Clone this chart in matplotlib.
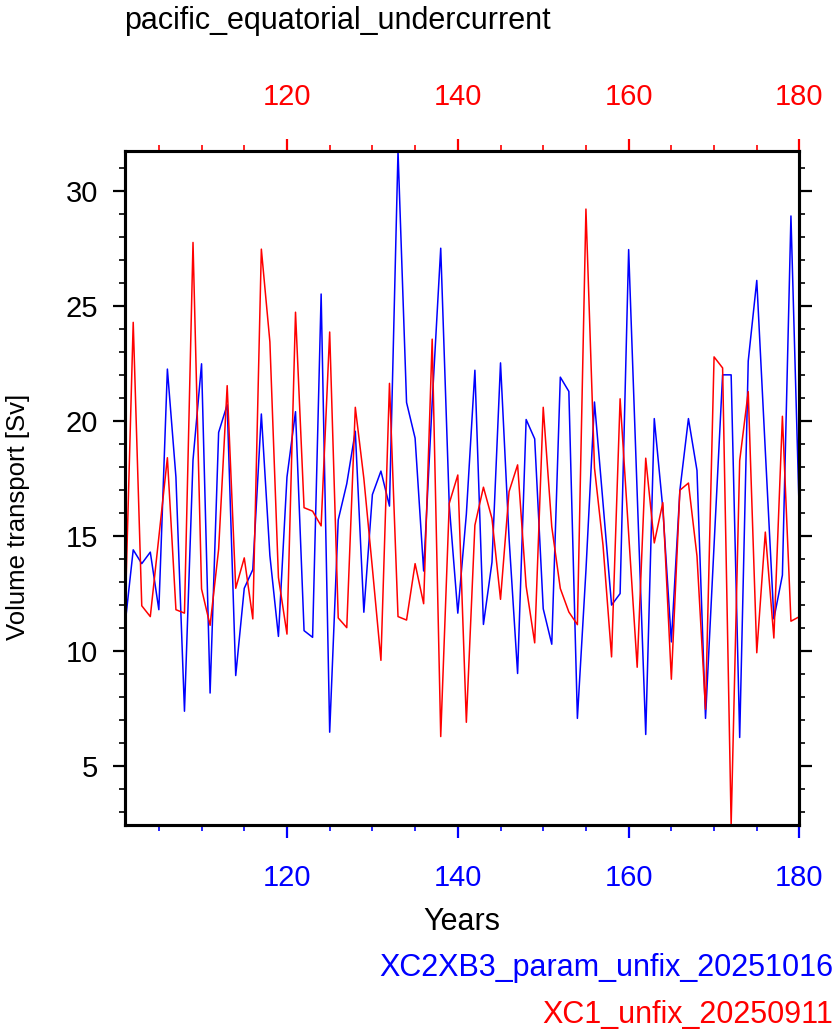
import matplotlib
matplotlib.use("Agg")
import matplotlib.pyplot as plt
from matplotlib.ticker import MultipleLocator

plt.rcParams['font.family'] = ['Liberation Sans', 'DejaVu Sans']

title = "pacific_equatorial_undercurrent"
label_blue = "XC2XB3_param_unfix_20251016"
label_red = "XC1_unfix_20250911"

years = list(range(101, 181))

# volume transport [Sv]
blue = [11.0, 14.4, 13.8, 14.3, 11.8, 22.25, 17.56, 7.39, 18.3, 22.48,
        8.18, 19.5, 20.7, 8.94, 12.73, 13.54, 20.3, 14.15, 10.64, 17.56,
        20.4, 10.89, 10.6, 25.51, 6.48, 15.7, 17.27, 19.55, 11.69, 16.8,
        17.82, 16.3, 31.72, 20.8, 19.25, 13.48, 20.8, 27.5, 16.33, 11.65,
        15.95, 22.2, 11.16, 13.86, 22.52, 14.9, 9.03, 20.06, 19.22, 11.84,
        10.3, 21.9, 21.28, 7.08, 13.5, 20.82, 16.43, 12.0, 12.5, 27.44,
        16.85, 6.38, 20.1, 16.2, 10.4, 16.99, 20.1, 17.85, 7.08, 14.6,
        22.0, 22.0, 6.25, 22.6, 26.1, 18.7, 11.4, 13.3, 28.9, 15.6]

red = [10.8, 24.28, 11.97, 11.5, 14.95, 18.4, 11.8, 11.65, 27.75, 12.7,
       11.12, 14.43, 21.53, 12.73, 14.05, 11.4, 27.46, 23.43, 13.2, 10.74,
       24.72, 16.23, 16.08, 15.44, 23.86, 11.44, 11.02, 20.59, 17.5, 13.6,
       9.6, 21.63, 11.5, 11.35, 13.8, 12.06, 23.55, 6.29, 16.42, 17.65,
       6.91, 15.47, 17.12, 15.76, 12.25, 16.93, 18.09, 12.82, 10.36, 20.59,
       15.4, 12.72, 11.7, 11.15, 29.2, 17.96, 14.6, 9.75, 20.96, 15.1,
       9.3, 18.38, 14.7, 16.45, 8.78, 16.99, 17.3, 14.13, 7.48, 22.78,
       22.3, 2.45, 18.27, 21.27, 9.93, 15.17, 10.57, 20.2, 11.3, 11.5]

fig = plt.figure(figsize=(8.39, 10.36), dpi=100)
ax = fig.add_axes([0.1486, 0.2037, 0.8043, 0.6505])

ax.plot(years, blue, color='blue', lw=1.1)
ymin = min(min(blue), min(red))
ymax = max(max(blue), max(red))
ax.set_xlim(years[0], years[-1])
ax.set_ylim(ymin, ymax)

# red series on its own top axis
ax2 = ax.twiny()
ax2.plot(years, red, color='red', lw=1.1)
ax2.set_xlim(years[0], years[-1])

for a in (ax, ax2):
    for s in a.spines.values():
        s.set_linewidth(2.2)

ax.xaxis.set_major_locator(MultipleLocator(20))
ax.xaxis.set_minor_locator(MultipleLocator(5))
ax.yaxis.set_major_locator(MultipleLocator(5))
ax.yaxis.set_minor_locator(MultipleLocator(1))
ax2.xaxis.set_major_locator(MultipleLocator(20))
ax2.xaxis.set_minor_locator(MultipleLocator(5))

fs = 21
ax.tick_params(axis='y', which='both', direction='out', left=True, right=True,
               labelsize=fs, color='black')
ax.tick_params(axis='y', which='major', length=9, width=1.6, pad=10)
ax.tick_params(axis='y', which='minor', length=4.5, width=1.2)
ax.tick_params(axis='x', which='both', direction='out', top=False, bottom=True,
               color='blue', labelcolor='blue', labelsize=fs)
ax.tick_params(axis='x', which='major', length=9, width=1.6, pad=19)
ax.tick_params(axis='x', which='minor', length=4.5, width=1.2)
ax2.tick_params(axis='x', which='both', direction='out', color='red',
                labelcolor='red', labelsize=fs)
ax2.tick_params(axis='x', which='major', length=9, width=1.6, pad=20)
ax2.tick_params(axis='x', which='minor', length=4.5, width=1.2)

ax.set_xlabel("Years", fontsize=22, labelpad=11)
ax.set_ylabel("Volume transport [Sv]", fontsize=18.5)
ax.yaxis.set_label_coords(-0.14, 0.457)

fig.text(0.148, 0.980, title, fontsize=22, ha='left', va='center')
fig.text(0.993, 0.0656, label_blue, fontsize=22, color='blue', ha='right', va='center')
fig.text(0.993, 0.0203, label_red, fontsize=22, color='red', ha='right', va='center')

fig.savefig("out.png", dpi=100)
